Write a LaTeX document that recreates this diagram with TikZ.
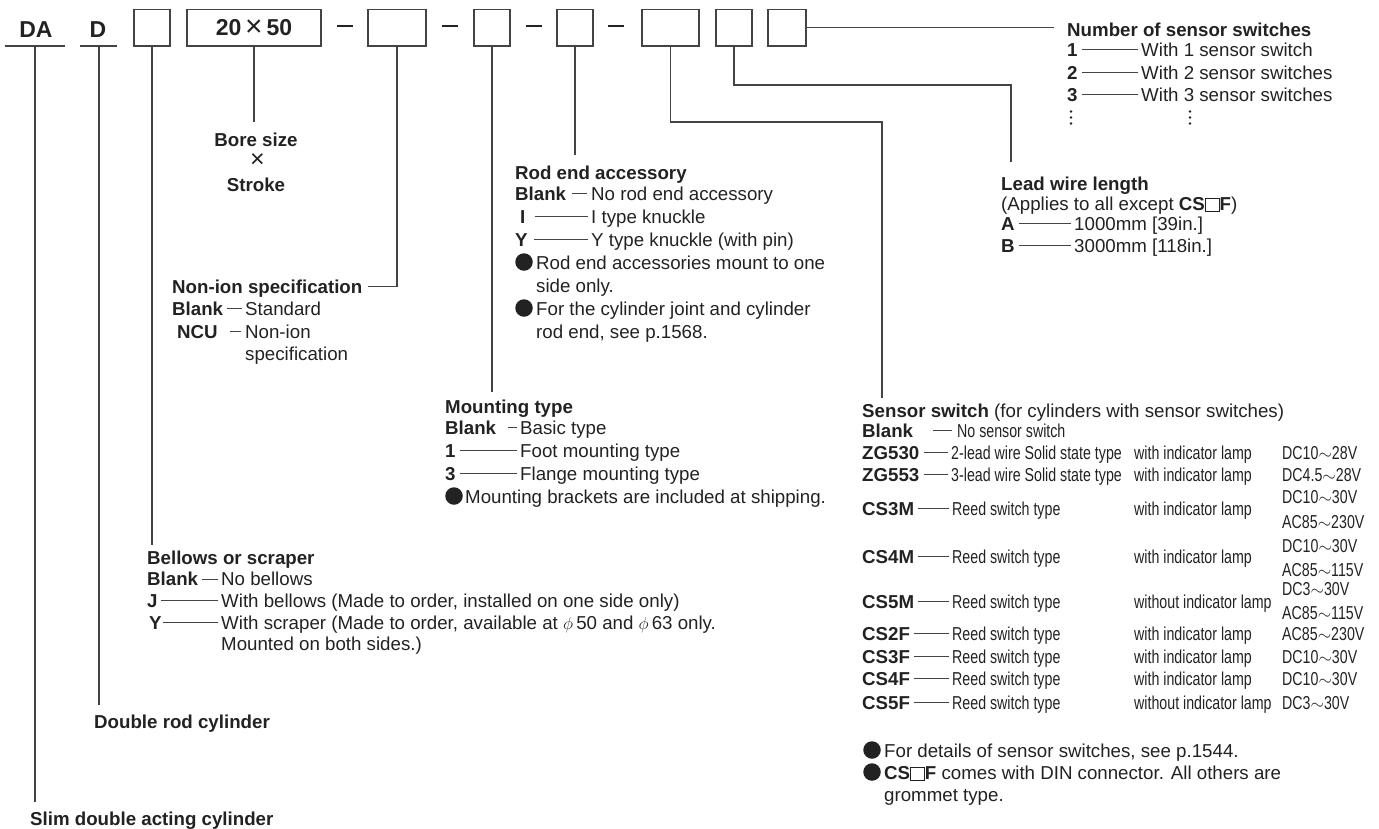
\documentclass[tikz,border=0pt]{standalone}
\usepackage{fontspec}
\setmainfont{Liberation Sans}
\newfontfamily\cond[FakeStretch=0.76]{Liberation Sans}
\newcommand{\fs}{\fontsize{18.7}{22}\selectfont}
\newcommand{\bigf}{\fontsize{23}{26}\selectfont}
\newcommand{\sqb}{\raisebox{-1pt}{\setlength{\fboxsep}{0pt}\setlength{\fboxrule}{0.9pt}\fbox{\rule{0pt}{12.5pt}\hspace{13pt}}}}
\definecolor{ink}{HTML}{222222}
\definecolor{wire}{HTML}{444444}
\newcommand{\itm}[2]{\draw[itemline] ([xshift=4pt,yshift=6.5pt]#1.base east) -- ([xshift=-3pt,yshift=6.5pt]#2.base west);}
\begin{document}
\begin{tikzpicture}[x=1pt,y=-1pt,
  txt/.style={inner sep=0pt, anchor=base west, yshift=-7pt, font=\fs, text=ink},
  ctxt/.style={txt, anchor=base},
  khdr/.style={txt, font=\fs\bfseries},
  kcode/.style={txt, font=\fs\bfseries},
  cnd/.style={txt, font=\fs\cond},
  wireline/.style={draw=wire, line width=1.1pt},
  itemline/.style={draw=wire, line width=1pt},
  codebox/.style={draw=wire, line width=1.2pt, minimum width=#1, minimum height=36.7pt, inner sep=0pt},
  bul/.style={circle, fill=ink, minimum size=17.5pt, inner sep=0pt},
  edot/.style={circle, fill=ink, minimum size=2.6pt, inner sep=0pt},
  sep/.style={inner sep=0pt, text=ink},
]
\useasboundingbox (0,0) rectangle (1379,828);

% ---------- top row ----------
\node[inner sep=0pt, font=\bigf\bfseries, text=ink] (da) at (36,29.5) {DA};
\node[inner sep=0pt, font=\bigf\bfseries, text=ink] (dd) at (98,29.5) {D};
\coordinate (daL) at (4.5,46); \coordinate (daR) at (65,46);
\coordinate (dL) at (80,46);   \coordinate (dR) at (117,46);
\coordinate (daS) at (35,46);  \coordinate (dS) at (99,46);
\draw[wireline] (daL) -- (daR);
\draw[wireline] (dL) -- (dR);
\node[codebox=36pt] (b1) at (152,27.7) {};
\node[codebox=134pt, font=\bigf\bfseries, text=ink] (b2) at (254,27.7) {20\,{\fontsize{30}{30}\selectfont\mdseries\raisebox{-1pt}{×}}\,50};
\node[sep] (s1) at (345,26) {\rule{16pt}{1.6pt}};
\node[codebox=58pt] (b3) at (397,27.7) {};
\node[sep] (s2) at (450,26) {\rule{16pt}{1.6pt}};
\node[codebox=36pt] (b4) at (492,27.7) {};
\node[sep] (s3) at (533.5,26) {\rule{16pt}{1.6pt}};
\node[codebox=36pt] (b5) at (575,27.7) {};
\node[sep] (s4) at (616,26) {\rule{16pt}{1.6pt}};
\node[codebox=57pt] (b6) at (670.5,27.7) {};
\node[codebox=36pt] (b7) at (734,27.7) {};
\node[codebox=38pt] (b8) at (787,27.7) {};

% ---------- Number of sensor switches ----------
\node[khdr] (nsh) at (1067,29) {Number of sensor switches};
\coordinate (nsl) at (1054,28);
\draw[wireline] (b8.east) -- (b8.east -| nsl);
\node[kcode] (n1) at (1067,49) {1};
\node[txt] (n1t) at (1141,49) {With 1 sensor switch};
\node[kcode] (n2) at (1067,72) {2};
\node[txt] (n2t) at (1141,72) {With 2 sensor switches};
\node[kcode] (n3) at (1067,94) {3};
\node[txt] (n3t) at (1141,94) {With 3 sensor switches};
\itm{n1}{n1t}\itm{n2}{n2t}\itm{n3}{n3t}
\foreach \yy in {111.5,117.5,123.5}{
  \node[edot] at (1071,\yy) {};
  \node[edot] at (1190,\yy) {};
}

% ---------- Lead wire length ----------
\coordinate (b7k) at (1011,85); \coordinate (b7e) at (1011,162);
\draw[wireline] (b7.south) |- (b7k) -- (b7e);
\node[khdr] (lwh) at (1001,183) {Lead wire length};
\node[txt] (lwa) at (1001,203) {(Applies to all except \textbf{CS}\sqb\textbf{F})};
\node[kcode] (la) at (1001,223) {A};
\node[txt] (lat) at (1074,223) {1000mm [39in.]};
\node[kcode] (lb) at (1001,245) {B};
\node[txt] (lbt) at (1074,245) {3000mm [118in.]};
\itm{la}{lat}\itm{lb}{lbt}

% ---------- Bore size ----------
\coordinate (b2e) at (254,122);
\draw[wireline] (b2.south) -- (b2e);
\node[ctxt, font=\fs\bfseries] (bs1) at (256,139) {Bore size};
\node[inner sep=0pt, text=ink, font=\fontsize{25}{25}\selectfont] (bs2) at (257.5,161) {×};
\node[ctxt, font=\fs\bfseries] (bs3) at (256,184) {Stroke};

% ---------- Rod end accessory ----------
\coordinate (b5e) at (575,155);
\draw[wireline] (b5.south) -- (b5e);
\node[khdr] (reh) at (515,172) {Rod end accessory};
\node[kcode] (rb) at (515,193) {Blank};
\node[txt] (rbt) at (591,193) {No rod end accessory};
\node[kcode] (ri) at (520,216) {I};
\node[txt] (rit) at (591,216) {I type knuckle};
\node[kcode] (ry) at (515,239) {Y};
\node[txt] (ryt) at (591,239) {Y type knuckle (with pin)};
\draw[itemline] ([xshift=6pt,yshift=6.5pt]rb.base east) -- ([xshift=-4pt,yshift=6.5pt]rbt.base west);
\draw[itemline] ([xshift=9pt,yshift=6.5pt]ri.base east) -- ([xshift=-3pt,yshift=6.5pt]rit.base west);
\draw[itemline] ([xshift=6pt,yshift=6.5pt]ry.base east) -- ([xshift=-3pt,yshift=6.5pt]ryt.base west);
\node[bul] (rbu1) at (524,262) {};
\node[txt] (rn1) at (536,262) {Rod end accessories mount to one};
\node[txt] (rn1b) at (536,285) {side only.};
\node[bul] (rbu2) at (524,308) {};
\node[txt] (rn2) at (536,308) {For the cylinder joint and cylinder};
\node[txt] (rn2b) at (536,331) {rod end, see p.1568.};

% ---------- Non-ion specification ----------
\node[khdr] (nih) at (172,286) {Non-ion specification};
\draw[wireline] (b3.south) |- ([xshift=5pt,yshift=6.5pt]nih.base east);
\node[kcode] (nb) at (172,308) {Blank};
\node[txt] (nbt) at (245,308) {Standard};
\node[kcode] (nn) at (177,331) {NCU};
\node[txt] (nnt) at (245,331) {Non-ion};
\node[txt] (nnt2) at (245,353) {specification};
\itm{nb}{nbt}
\draw[itemline] ([xshift=12pt,yshift=6.5pt]nn.base east) -- ([xshift=-4pt,yshift=6.5pt]nnt.base west);

% ---------- Mounting type ----------
\coordinate (b4e) at (492,392);
\draw[wireline] (b4.south) -- (b4e);
\node[khdr] (mth) at (445,406) {Mounting type};
\node[kcode] (mb) at (445,427) {Blank};
\node[txt] (mbt) at (520,427) {Basic type};
\node[kcode] (m1) at (445,450) {1};
\node[txt] (m1t) at (520,450) {Foot mounting type};
\node[kcode] (m3) at (445,473) {3};
\node[txt] (m3t) at (520,473) {Flange mounting type};
\draw[itemline] ([xshift=12pt,yshift=6.5pt]mb.base east) -- ([xshift=-3pt,yshift=6.5pt]mbt.base west);
\itm{m1}{m1t}\itm{m3}{m3t}
\node[bul] (mbu) at (454,496) {};
\node[txt] (mnt) at (465,496) {Mounting brackets are included at shipping.};

% ---------- Sensor switch ----------
\coordinate (b6k) at (882,122); \coordinate (b6e) at (882,398);
\draw[wireline] (b6.south) |- (b6k) -- (b6e);
\node[txt] (ssh) at (862,410) {\textbf{Sensor switch} (for cylinders with sensor switches)};
\node[kcode] (sb) at (862,430) {Blank};
\node[cnd] (sbt) at (957,430) {No sensor switch};
\draw[itemline] ([xshift=20pt,yshift=6.5pt]sb.base east) -- ([xshift=-5pt,yshift=6.5pt]sbt.base west);
\node[kcode] (z1) at (862,452) {ZG530};
\node[cnd] (z1t) at (951,452) {2-lead wire Solid state type};
\node[cnd] (z1l) at (1134,452) {with indicator lamp};
\node[cnd] (z1v) at (1282,452) {DC10$\sim$28V};
\node[kcode] (z2) at (862,474) {ZG553};
\node[cnd] (z2t) at (951,474) {3-lead wire Solid state type};
\node[cnd] (z2l) at (1134,474) {with indicator lamp};
\node[cnd] (z2v) at (1282,474) {DC4.5$\sim$28V};
\itm{z1}{z1t}\itm{z2}{z2t}
\node[kcode] (c3m) at (862,508) {CS3M};
\node[cnd] (c3mt) at (952,508) {Reed switch type};
\node[cnd] (c3ml) at (1134,508) {with indicator lamp};
\node[cnd] (c3mv1) at (1282,496) {DC10$\sim$30V};
\node[cnd] (c3mv2) at (1282,521) {AC85$\sim$230V};
\node[kcode] (c4m) at (862,556) {CS4M};
\node[cnd] (c4mt) at (952,556) {Reed switch type};
\node[cnd] (c4ml) at (1134,556) {with indicator lamp};
\node[cnd] (c4mv1) at (1282,545) {DC10$\sim$30V};
\node[cnd] (c4mv2) at (1282,569) {AC85$\sim$115V};
\node[kcode] (c5m) at (862,601) {CS5M};
\node[cnd] (c5mt) at (952,601) {Reed switch type};
\node[cnd] (c5ml) at (1134,601) {without indicator lamp};
\node[cnd] (c5mv1) at (1282,588) {DC3$\sim$30V};
\node[cnd] (c5mv2) at (1282,612) {AC85$\sim$115V};
\node[kcode] (c2f) at (862,633) {CS2F};
\node[cnd] (c2ft) at (952,633) {Reed switch type};
\node[cnd] (c2fl) at (1134,633) {with indicator lamp};
\node[cnd] (c2fv) at (1282,633) {AC85$\sim$230V};
\node[kcode] (c3f) at (862,656) {CS3F};
\node[cnd] (c3ft) at (952,656) {Reed switch type};
\node[cnd] (c3fl) at (1134,656) {with indicator lamp};
\node[cnd] (c3fv) at (1282,656) {DC10$\sim$30V};
\node[kcode] (c4f) at (862,678) {CS4F};
\node[cnd] (c4ft) at (952,678) {Reed switch type};
\node[cnd] (c4fl) at (1134,678) {with indicator lamp};
\node[cnd] (c4fv) at (1282,678) {DC10$\sim$30V};
\node[kcode] (c5f) at (862,702) {CS5F};
\node[cnd] (c5ft) at (952,702) {Reed switch type};
\node[cnd] (c5fl) at (1134,702) {without indicator lamp};
\node[cnd] (c5fv) at (1282,702) {DC3$\sim$30V};
\itm{c3m}{c3mt}\itm{c4m}{c4mt}\itm{c5m}{c5mt}
\itm{c2f}{c2ft}\itm{c3f}{c3ft}\itm{c4f}{c4ft}\itm{c5f}{c5ft}
\node[bul] (sbu1) at (872,750) {};
\node[txt] (sn1) at (884,750) {For details of sensor switches, see p.1544.};
\node[bul] (sbu2) at (872,772) {};
\node[txt] (sn2) at (884,772) {\textbf{CS}\sqb\textbf{F} comes with DIN connector. All others are};
\node[txt] (sn2b) at (884,794) {grommet type.};

% ---------- Bellows or scraper ----------
\coordinate (b1e) at (152,545);
\draw[wireline] (b1.south) -- (b1e);
\node[khdr] (bwh) at (147,557) {Bellows or scraper};
\node[kcode] (bb) at (147,578.5) {Blank};
\node[txt] (bbt) at (221,578.5) {No bellows};
\node[kcode] (bj) at (147,600) {J};
\node[txt] (bjt) at (221,600) {With bellows (Made to order, installed on one side only)};
\node[kcode] (by) at (149,622) {Y};
\node[txt] (byt) at (221,622) {With scraper (Made to order, available at $\phi$\,50 and $\phi$\,63 only.};
\node[txt] (byt2) at (221,643) {Mounted on both sides.)};
\itm{bb}{bbt}
\draw[itemline] ([xshift=3pt,yshift=6.5pt]bj.base east) -- ([xshift=-3pt,yshift=6.5pt]bjt.base west);
\draw[itemline] ([xshift=1pt,yshift=6.5pt]by.base east) -- ([xshift=-3pt,yshift=6.5pt]byt.base west);

% ---------- Double rod / Slim ----------
\coordinate (dEnd) at (99,705);
\draw[wireline] (dS) -- (dEnd);
\node[khdr] (drc) at (94,721) {Double rod cylinder};
\coordinate (daEnd) at (35,802);
\draw[wireline] (daS) -- (daEnd);
\node[khdr] (sdc) at (30,818) {Slim double acting cylinder};
\end{tikzpicture}
\end{document}
